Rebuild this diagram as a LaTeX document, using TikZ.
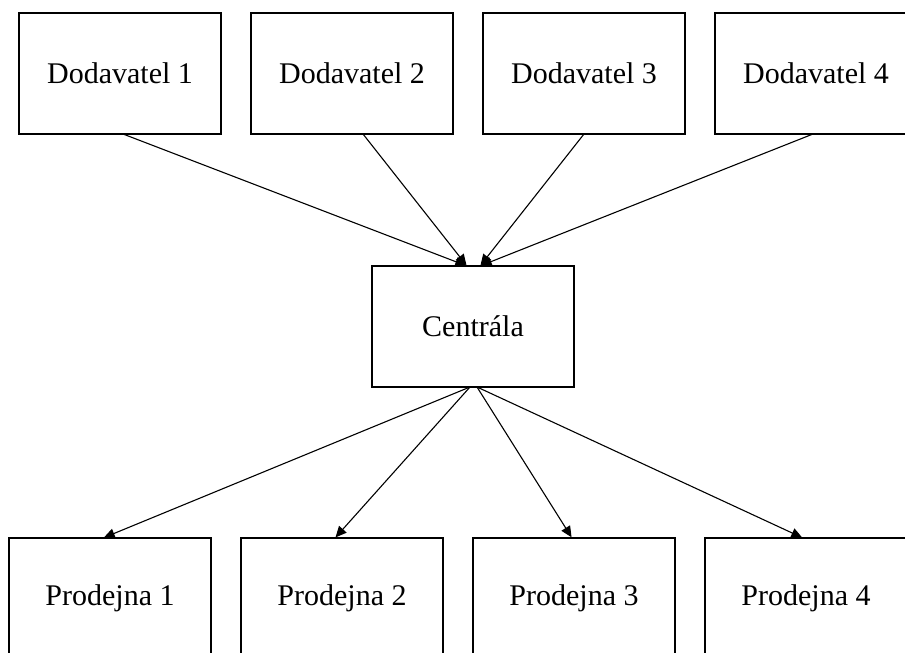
\documentclass[tikz,border=0pt]{standalone}
\usepackage{fontspec}
\setmainfont{Liberation Serif}
\usetikzlibrary{arrows.meta,positioning}

\begin{document}
\begin{tikzpicture}[font=\fontsize{15}{17}\selectfont,
      box/.style={rectangle, draw, line width=0.9pt, fill=white, inner sep=0pt, outer sep=0pt,
                  minimum width=101pt, minimum height=60.5pt},
      arr/.style={-{Triangle[length=5.5pt,width=5pt]}, line width=0.55pt, shorten >=0.4pt}]
    \useasboundingbox (0,0) rectangle (452.5pt,-326.5pt);
    % dodavatele
    \node[box] (dod1) at (60pt,-36.75pt) {Dodavatel 1};
    \node[box, right=15pt of dod1] (dod2) {Dodavatel 2};
    \node[box, right=15pt of dod2] (dod3) {Dodavatel 3};
    \node[box, right=15pt of dod3] (dod4) {Dodavatel 4};
    % centrala
    \node[box] (cen) at (236.5pt,-163.25pt) {Centrála};
    % prodejny
    \node[box] (pro1) at (55pt,-299.25pt) {Prodejna 1};
    \node[box, right=15pt of pro1] (pro2) {Prodejna 2};
    \node[box, right=15pt of pro2] (pro3) {Prodejna 3};
    \node[box, right=15pt of pro3] (pro4) {Prodejna 4};
    \draw[arr] ([xshift=1.5pt]dod1.south) -- ([xshift=-3pt]cen.north);
    \draw[arr] ([xshift=5.5pt]dod2.south) -- ([xshift=-3pt]cen.north);
    \draw[arr] (dod3.south) -- ([xshift=3.5pt]cen.north);
    \draw[arr] ([xshift=-1.5pt]dod4.south) -- ([xshift=3.5pt]cen.north);
    \draw[arr] ([xshift=-1.5pt]cen.south) -- ([xshift=-3.5pt]pro1.north);
    \draw[arr] ([xshift=-1.5pt]cen.south) -- ([xshift=-3.5pt]pro2.north);
    \draw[arr] ([xshift=2pt]cen.south) -- ([xshift=-1pt]pro3.north);
    \draw[arr] ([xshift=2pt]cen.south) -- ([xshift=-1.5pt]pro4.north);
  \end{tikzpicture}
\end{document}
